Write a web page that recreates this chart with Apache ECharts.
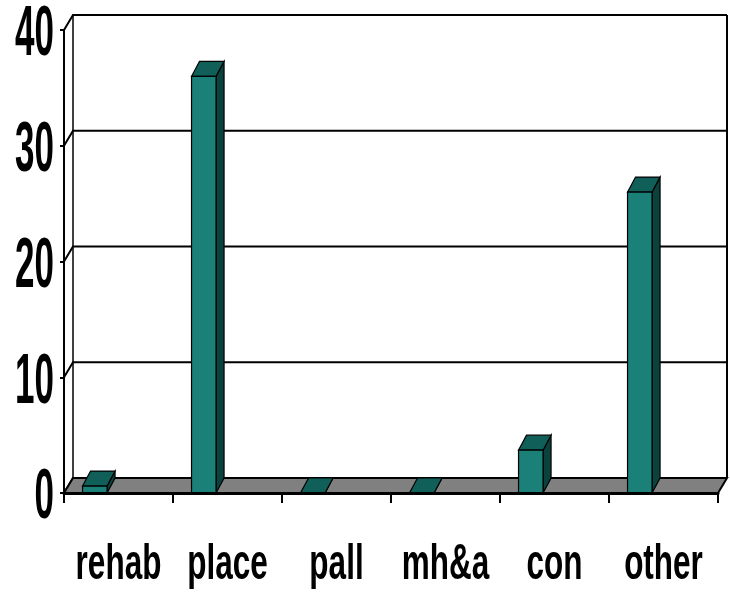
<!DOCTYPE html>
<html>
<head>
<meta charset="utf-8">
<script src="https://cdn.jsdelivr.net/npm/echarts@6/dist/echarts.min.js"></script>
<style>
  html, body { margin: 0; padding: 0; background: #fff; }
  #chart { width: 730px; height: 600px; }
</style>
</head>
<body>
<div id="chart"></div>
<script>
const categories = ['rehab', 'place', 'pall', 'mh&a', 'con', 'other']
const values = [0.6, 36, 0, 0, 3.7, 26]
const yTicks = [0, 10, 20, 30, 40]
const yTickLabels = ['0', '10', '20', '30', '40']

// 3d look: offset of the back wall and of the bar depth, in px
const wallDepth = [9, -15]
const barDepth = [8, -15]
const colors = { front: '#1a8078', top: '#105f59', side: '#0c423e', floor: '#808080' }

const chart = echarts.init(document.getElementById('chart'))

const option = {
  animation: false,
  grid: { left: 64, right: 12, top: 30, bottom: 107 },
  xAxis: {
    type: 'category',
    data: categories,
    axisLine: { lineStyle: { color: '#000', width: 3 } },
    axisTick: { show: true, interval: 0, length: 10, lineStyle: { color: '#000', width: 2 } },
    axisLabel: { show: false },
    z: 10
  },
  yAxis: {
    type: 'value',
    min: 0,
    max: 40,
    interval: 10,
    axisLine: { show: true, lineStyle: { color: '#000', width: 2 } },
    axisTick: { show: true, length: 4, lineStyle: { color: '#000', width: 2 } },
    axisLabel: { show: false },
    splitLine: { show: false }
  },
  series: [
    {
      // back wall, gridlines and floor
      type: 'custom',
      data: [[0, 0]],
      z: 1,
      silent: true,
      renderItem: (params, api) => {
        const cs = params.coordSys
        const [dx, dy] = wallDepth
        const left = cs.x
        const right = cs.x + cs.width
        const children = []
        yTicks.forEach(v => {
          const y = api.coord([0, v])[1]
          children.push({
            type: 'polyline',
            shape: { points: [[left, y], [left + dx, y + dy], [right + dx, y + dy]] },
            style: { stroke: '#000', lineWidth: 2, fill: null }
          })
        })
        const yTop = api.coord([0, yTicks[yTicks.length - 1]])[1] + dy
        const yBase = api.coord([0, 0])[1]
        children.push({
          type: 'line',
          shape: { x1: left + dx, y1: yTop, x2: left + dx, y2: yBase + dy },
          style: { stroke: '#000', lineWidth: 1.5 }
        })
        children.push({
          type: 'line',
          shape: { x1: right + dx, y1: yTop, x2: right + dx, y2: yBase + dy },
          style: { stroke: '#000', lineWidth: 2 }
        })
        children.push({
          type: 'polygon',
          shape: { points: [[left, yBase], [right, yBase], [right + dx, yBase + dy], [left + dx, yBase + dy]] },
          style: { fill: colors.floor, stroke: '#000', lineWidth: 2 }
        })
        return { type: 'group', children }
      }
    },
    {
      // bars
      type: 'custom',
      data: values.map((v, i) => [i, v]),
      encode: { x: 0, y: 1 },
      z: 5,
      renderItem: (params, api) => {
        const bw = api.size([1, 0])[0]
        const top = api.coord([api.value(0), api.value(1)])
        const base = api.coord([api.value(0), 0])
        const x1 = top[0] - bw * 0.33
        const x2 = top[0] - bw * 0.105
        const yt = top[1]
        const yb = base[1]
        const [dx, dy] = barDepth
        const line = { stroke: '#000', lineWidth: 1.2 }
        return {
          type: 'group',
          children: [
            {
              type: 'polygon',
              shape: { points: [[x2, yb], [x2 + dx, yb + dy], [x2 + dx, yt + dy], [x2, yt]] },
              style: { fill: colors.side, ...line }
            },
            {
              type: 'polygon',
              shape: { points: [[x1, yt], [x2, yt], [x2 + dx, yt + dy], [x1 + dx, yt + dy]] },
              style: { fill: colors.top, ...line }
            },
            {
              type: 'rect',
              shape: { x: x1, y: yt, width: x2 - x1, height: yb - yt },
              style: { fill: colors.front, ...line }
            }
          ]
        }
      }
    },
    {
      // y tick labels, tall and narrow
      type: 'custom',
      data: yTicks.map((v, i) => [0, v, i]),
      z: 6,
      silent: true,
      renderItem: (params, api) => {
        const cs = params.coordSys
        const y = api.coord([0, api.value(1)])[1]
        return {
          type: 'text',
          x: cs.x - 10,
          y: y + 6,
          scaleX: 0.5,
          style: {
            text: yTickLabels[api.value(2)],
            fontFamily: 'Liberation Sans, Arial, sans-serif',
            fontWeight: 'bold',
            fontSize: 70,
            fill: '#000',
            align: 'right',
            verticalAlign: 'middle'
          }
        }
      }
    },
    {
      // category labels
      type: 'custom',
      data: categories.map((c, i) => [i, 0]),
      z: 6,
      silent: true,
      renderItem: (params, api) => {
        const p = api.coord([api.value(0), 0])
        return {
          type: 'text',
          x: p[0],
          y: p[1] + 72,
          scaleX: 0.63,
          style: {
            text: categories[params.dataIndex],
            fontFamily: 'Liberation Sans, Arial, sans-serif',
            fontWeight: 'bold',
            fontSize: 50,
            fill: '#000',
            align: 'center',
            verticalAlign: 'middle'
          }
        }
      }
    }
  ]
}

chart.setOption(option)
</script>
</body>
</html>
